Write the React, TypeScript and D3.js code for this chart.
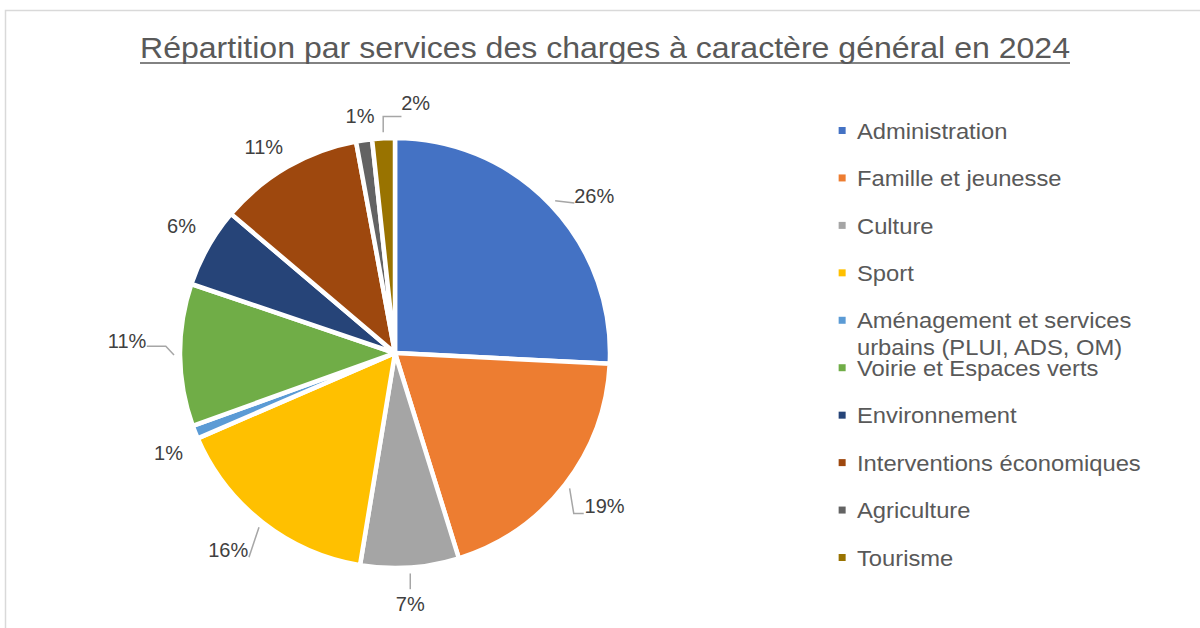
import React from "react";
import * as d3 from "d3";

const categories = [
  "Administration",
  "Famille et jeunesse",
  "Culture",
  "Sport",
  "Aménagement et services urbains (PLUI, ADS, OM)",
  "Voirie et Espaces verts",
  "Environnement",
  "Interventions économiques",
  "Agriculture",
  "Tourisme",
];
const values = [25.8, 19.4, 7.4, 15.9, 1.0, 10.7, 6.0, 10.9, 1.2, 1.7];
const labels = ["26%", "19%", "7%", "16%", "1%", "11%", "6%", "11%", "1%", "2%"];
const colors = ["#4472C4", "#ED7D31", "#A5A5A5", "#FFC000", "#5B9BD5", "#70AD47", "#264478", "#9E480E", "#636363", "#997300"];
const legendLines = [
  ["Administration"],
  ["Famille et jeunesse"],
  ["Culture"],
  ["Sport"],
  ["Aménagement et services", "urbains (PLUI, ADS, OM)"],
  ["Voirie et Espaces verts"],
  ["Environnement"],
  ["Interventions économiques"],
  ["Agriculture"],
  ["Tourisme"],
];
const title = "Répartition par services des charges à caractère général en 2024";

const W = 1200, H = 628;
const cx = 395, cy = 353, R = 215;
const FONT = "'Liberation Sans', Arial, sans-serif";
const LFS = 20;

// label placement tweaks relative to mid-angle position
const labelTweak: Record<number, { dx: number; dy: number }> = {
  0: { dx: 18, dy: 15 },
  1: { dx: 12, dy: 0 },
  2: { dx: -2, dy: 2 },
  3: { dx: -13, dy: 0 },
  4: { dx: 6, dy: 8 },
  5: { dx: -18, dy: -14 },
  6: { dx: 4, dy: -4 },
  7: { dx: -6, dy: 10 },
  8: { dx: 1, dy: 10 },
  9: { dx: 34, dy: 0 },
};

export default function App() {
  const pie = d3.pie<number>().sort(null).value((d) => d)(values);
  const arc = d3.arc<d3.PieArcDatum<number>>().innerRadius(0).outerRadius(R);
  const legendY = d3.scaleLinear().domain([0, 9]).range([131, 558]);

  const titleY = 58;
  return (
    <svg width={W} height={H} style={{ position: "absolute", left: 0, top: 0, background: "#fff" }} fontFamily={FONT}>
      <rect x={5.5} y={10.5} width={1300} height={700} fill="#fff" stroke="#d9d9d9" strokeWidth={1.5} />
      <text x={140} y={titleY} textAnchor="start" fontSize={29} fill="#595959" textLength={930} lengthAdjust="spacingAndGlyphs">{title}</text>
      <line x1={140} x2={1070} y1={titleY + 5} y2={titleY + 5} stroke="#595959" strokeWidth={1.5} />
      <g transform={`translate(${cx},${cy})`}>
        {pie.map((p, i) => (
          <path key={i} d={arc(p) || ""} fill={colors[i]} stroke="#fff" strokeWidth={4.5} strokeLinejoin="round" />
        ))}
        {pie.map((p, i) => {
          const mid = (p.startAngle + p.endAngle) / 2;
          const lr = 250;
          const t = labelTweak[i] || { dx: 0, dy: 0 };
          const lx = Math.sin(mid) * lr + t.dx;
          const ly = -Math.cos(mid) * lr + t.dy;
          const sx = Math.sin(mid) * (R + 6);
          const sy = -Math.cos(mid) * (R + 6);
          const hw = labels[i].length * 0.28 * LFS;
          const hh = 0.36 * LFS;
          let leader: string | null = null;
          if (i === 0) leader = `M${sx},${sy}L${lx - hw - 3},${ly + hh}`;
          else if (i === 1) leader = `M${sx},${sy}L${lx - hw - 14},${ly + hh}L${lx - hw - 4},${ly + hh}`;
          else if (i === 2) leader = `M${sx},${sy}L${sx},${ly - hh - 8}`;
          else if (i === 3) leader = `M${sx},${sy}L${lx + hw + 4},${ly + hh}`;
          else if (i === 5) leader = `M${sx},${sy}L${lx + hw + 22},${ly + 5}L${lx + hw + 3},${ly + 5}`;
          else if (i === 9) leader = `M${sx},${sy}L${sx},${ly + hh + 6}L${lx - hw - 3},${ly + hh + 6}`;
          return (
            <g key={i}>
              {leader && <path d={leader} fill="none" stroke="#a6a6a6" strokeWidth={1.5} />}
              <text x={lx} y={ly} dy="0.35em" textAnchor="middle" fontSize={LFS} fill="#404040">{labels[i]}</text>
            </g>
          );
        })}
      </g>
      <g transform="translate(857,0) scale(1.08,1) translate(-857,0)">
        {categories.map((c, i) => {
          const y = legendY(i);
          return (
            <g key={c}>
              <rect x={843 / 1 - 3} y={y - 4} width={7 / 1.08} height={7} fill={colors[i]} />
              {legendLines[i].map((ln, j) => (
                <text key={j} x={857} y={y + j * 27} dy="0.35em" fontSize={22} fill="#595959">{ln}</text>
              ))}
            </g>
          );
        })}
      </g>
    </svg>
  );
}
